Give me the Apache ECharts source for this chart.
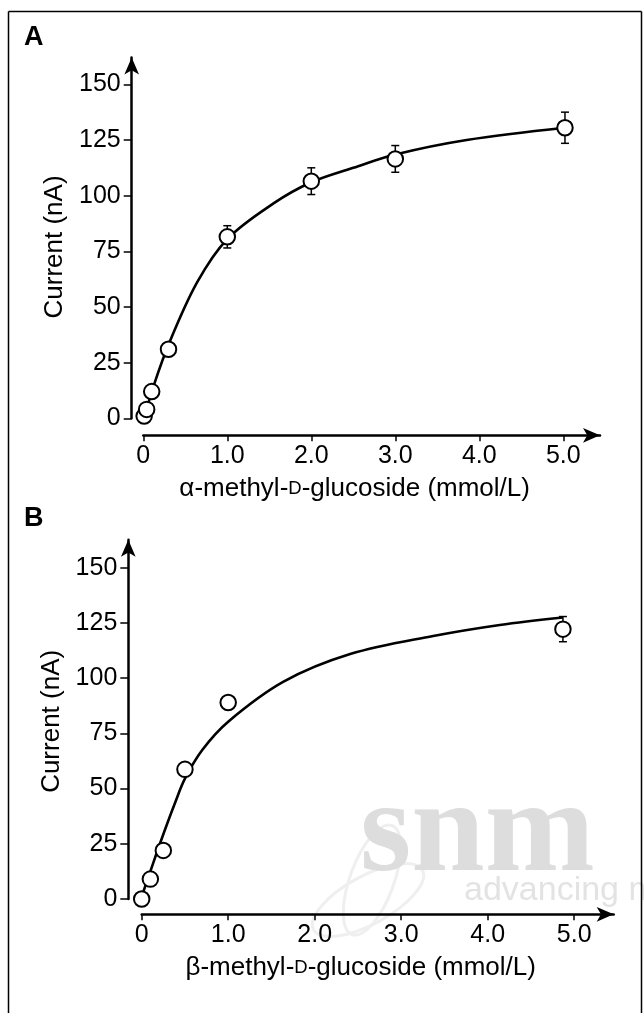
<!DOCTYPE html>
<html>
<head>
<meta charset="utf-8">
<script src="https://cdn.jsdelivr.net/npm/echarts@6/dist/echarts.min.js"></script>
<style>
html,body{margin:0;padding:0;background:#fff;}
#chart{width:644px;height:1013px;}
</style>
</head>
<body>
<div id="chart"></div>
<script>
// ---- data ----
const xTicks = [0, 1, 2, 3, 4, 5];
const xTickLabels = ['0', '1.0', '2.0', '3.0', '4.0', '5.0'];
const yTicks = [0, 25, 50, 75, 100, 125, 150];
const yTickLabels = ['0', '25', '50', '75', '100', '125', '150'];

// Panel A: alpha-methyl-D-glucoside
const alphaX = [0.01, 0.04, 0.1, 0.3, 1.0, 2.0, 3.0, 5.02];
const alphaY = [1, 4, 12, 31, 81.5, 106.5, 116.5, 130.5];
const alphaErr = [0, 0, 0, 0, 5, 6, 6, 7];
const alphaFitX = [0, 0.04, 0.1, 0.3, 0.64, 1.0, 1.55, 2.0, 2.5, 3.0, 3.85, 5.02];
const alphaFitY = [0.5, 4, 12, 33, 61, 80.5, 96.5, 106, 112.5, 118.5, 125, 130.5];

// Panel B: beta-methyl-D-glucoside
const betaX = [0, 0.1, 0.25, 0.5, 1.0, 4.87];
const betaY = [0, 9, 22, 58.7, 89, 122.2];
const betaErr = [0, 0, 0, 0, 0, 5.7];
const betaFitX = [0, 0.02, 0.1, 0.17, 0.27, 0.385, 0.5, 0.7, 1.0, 1.64, 2.41, 3.37, 4.14, 4.87];
const betaFitY = [0, 3.3, 12.5, 20.5, 31.5, 43.5, 54.5, 67.5, 80.3, 98.4, 110.9, 119.1, 124.1, 127.5];

// ---- helpers ----
const FONT = 'Liberation Sans, Arial, Helvetica, sans-serif';
const zip = (a, b) => a.map((v, i) => [v, b[i]]);
const errData = (xs, ys, es) => xs.map((x, i) => [x, ys[i] - es[i], ys[i] + es[i]]).filter((d, i) => es[i] > 0);

function xAxisCfg(grid, max, offset, nameMain) {
  return {
    type: 'value', gridIndex: grid, min: 0, max: max, offset: offset, position: 'bottom',
    axisLine: { show: true, onZero: false, lineStyle: { color: '#000', width: 2.5 }, symbol: ['none', 'arrow'], symbolSize: [11, 17] },
    axisTick: { show: true, customValues: xTicks, length: 6, inside: false, lineStyle: { color: '#000', width: 1.5 } },
    axisLabel: { customValues: xTicks, formatter: v => xTickLabels[xTicks.indexOf(v)], fontSize: 25, color: '#000', margin: 8, fontFamily: FONT },
    splitLine: { show: false },
    name: nameMain, nameLocation: 'middle', nameGap: 41,
    nameTextStyle: { fontSize: 26, color: '#000', fontFamily: FONT, padding: [0, 34, 0, 0],
      rich: { sc: { fontSize: 18.5, color: '#000', fontFamily: FONT } } }
  };
}
function yAxisCfg(grid, max, offset, pad) {
  return {
    type: 'value', gridIndex: grid, min: 0, max: max, offset: offset, position: 'left',
    axisLine: { show: true, onZero: false, lineStyle: { color: '#000', width: 2.5 }, symbol: ['none', 'arrow'], symbolSize: [11, 17] },
    axisTick: { show: true, customValues: yTicks, length: 8, lineStyle: { color: '#000', width: 1.5 } },
    axisLabel: { customValues: yTicks, formatter: v => yTickLabels[yTicks.indexOf(v)], fontSize: 25, color: '#000', margin: 11, fontFamily: FONT },
    splitLine: { show: false },
    name: 'Current (nA)', nameLocation: 'middle', nameGap: 60, nameRotate: 90,
    nameTextStyle: { fontSize: 26, color: '#000', fontFamily: FONT, padding: pad }
  };
}
function errSeries(xi, yi, data) {
  return {
    type: 'custom', xAxisIndex: xi, yAxisIndex: yi, z: 3, data: data,
    renderItem: function (params, api) {
      const x = api.value(0);
      const lo = api.coord([x, api.value(1)]);
      const hi = api.coord([x, api.value(2)]);
      const w = 4;
      const st = { stroke: '#000', lineWidth: 1.5 };
      return { type: 'group', children: [
        { type: 'line', shape: { x1: lo[0], y1: lo[1], x2: hi[0], y2: hi[1] }, style: st },
        { type: 'line', shape: { x1: lo[0] - w, y1: lo[1], x2: lo[0] + w, y2: lo[1] }, style: st },
        { type: 'line', shape: { x1: hi[0] - w, y1: hi[1], x2: hi[0] + w, y2: hi[1] }, style: st }
      ]};
    }
  };
}
function fitSeries(xi, yi, data) {
  return { type: 'line', xAxisIndex: xi, yAxisIndex: yi, data: data, smooth: 0.35, showSymbol: false, z: 2,
    lineStyle: { color: '#000', width: 2.6 }, silent: true };
}
function ptSeries(xi, yi, data) {
  return { type: 'scatter', xAxisIndex: xi, yAxisIndex: yi, data: data, symbol: 'circle', symbolSize: 15.5, z: 4,
    itemStyle: { color: '#fff', borderColor: '#000', borderWidth: 2, opacity: 1 } };
}

const chart = echarts.init(document.getElementById('chart'), null, { renderer: 'canvas' });
chart.setOption({
  backgroundColor: '#fff',
  animation: false,
  grid: [
    { left: 143.3, top: 57.6, width: 456.7, height: 360.7 },
    { left: 141.7, top: 539.7, width: 472, height: 359.3 }
  ],
  xAxis: [
    xAxisCfg(0, 5.437, 17, 'α-methyl-{sc|D}-glucoside (mmol/L)'),
    xAxisCfg(1, 5.457, 15.3, 'β-methyl-{sc|D}-glucoside (mmol/L)')
  ],
  yAxis: [
    yAxisCfg(0, 162, 11.6, [0, 18, 0, 0]),
    yAxisCfg(1, 162.7, 13.4, [0, 4, 0, 0])
  ],
  graphic: [
    // frame
    { type: 'line', shape: { x1: 8.5, y1: 11.5, x2: 8.5, y2: 1013 }, style: { stroke: '#000', lineWidth: 1.5 } },
    { type: 'line', shape: { x1: 8.5, y1: 11.5, x2: 641.5, y2: 11.5 }, style: { stroke: '#000', lineWidth: 1.5 } },
    { type: 'line', shape: { x1: 641.5, y1: 11.5, x2: 641.5, y2: 1013 }, style: { stroke: '#000', lineWidth: 1.5 } },
    // watermark
    { type: 'ellipse', z: -2, shape: { cx: 368, cy: 900, rx: 62, ry: 24 }, rotation: 0.5, originX: 368, originY: 900, style: { fill: 'none', stroke: '#efefef', lineWidth: 3 } },
    { type: 'ellipse', z: -2, shape: { cx: 372, cy: 880, rx: 22, ry: 58 }, rotation: -0.35, originX: 372, originY: 880, style: { fill: 'none', stroke: '#efefef', lineWidth: 3 } },
    { type: 'text', left: 360, top: 770, z: -1, style: { text: 'snm', font: 'bold 132px "Liberation Serif", serif', fill: '#dddddd' } },
    { type: 'text', left: 464, top: 874, z: -1, style: { text: 'advancing m', font: '34px "Liberation Sans", sans-serif', fill: '#e3e3e3' } },
    // panel labels
    { type: 'text', left: 24, top: 24, style: { text: 'A', font: 'bold 27px "Liberation Sans", Arial, sans-serif', fill: '#000' } },
    { type: 'text', left: 24, top: 505, style: { text: 'B', font: 'bold 27px "Liberation Sans", Arial, sans-serif', fill: '#000' } }
  ],
  series: [
    fitSeries(0, 0, zip(alphaFitX, alphaFitY)),
    errSeries(0, 0, errData(alphaX, alphaY, alphaErr)),
    ptSeries(0, 0, zip(alphaX, alphaY)),
    fitSeries(1, 1, zip(betaFitX, betaFitY)),
    errSeries(1, 1, errData(betaX, betaY, betaErr)),
    ptSeries(1, 1, zip(betaX, betaY))
  ]
});
</script>
</body>
</html>
